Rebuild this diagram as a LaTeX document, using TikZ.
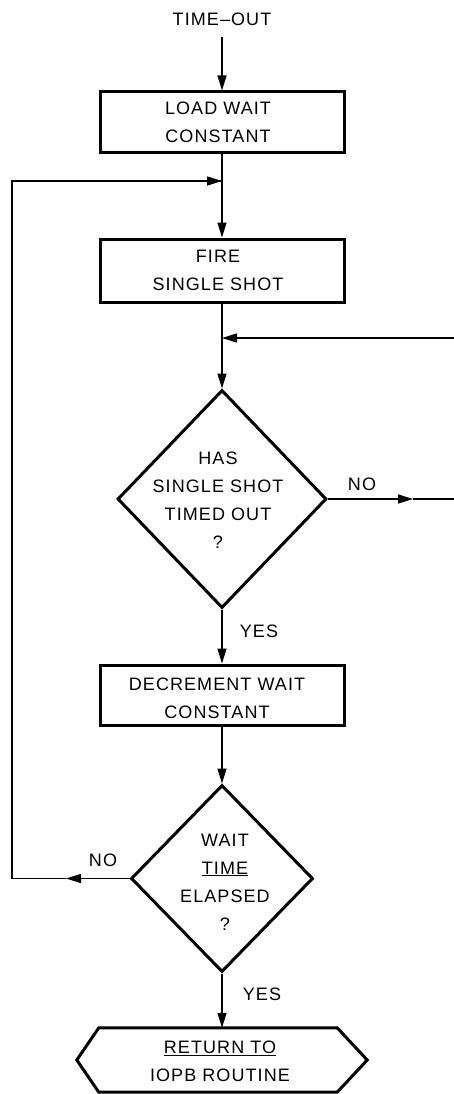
\documentclass[tikz,border=0pt]{standalone}
\usepackage{fontspec}
\setmainfont{Liberation Sans}[LetterSpace=6]
\usetikzlibrary{arrows.meta,shapes.geometric}
\begin{document}
\begin{tikzpicture}[x=1pt,y=-1pt,
  every node/.style={font=\fontsize{18}{28}\selectfont, inner sep=0pt},
  conn/.style={line width=1.5pt},
  arr/.style={conn, -{Triangle[length=15pt,width=9pt]}},
  procbox/.style={draw, line width=3pt, rectangle, minimum width=244pt, align=center},
  decision/.style={draw, line width=3pt, diamond, inner sep=0pt, aspect=1},
  lbl/.style={align=center}]
\useasboundingbox (0,0) rectangle (454,1094);

% nodes
\node[lbl] (start) at (222,19) {TIME--OUT};
\node[procbox, minimum height=61pt] (load) at (222,122.5) {};
\node[lbl] (loadt) at (218,122.5) {LOAD WAIT\\CONSTANT};
\node[procbox, minimum height=63pt] (fire) at (222,270.5) {};
\node[lbl] (firet) at (218,270.5) {FIRE\\SINGLE SHOT};
\node[decision, minimum width=209pt, minimum height=218pt] (d1) at (222,499) {};
\node[lbl] (d1t) at (218,500) {HAS\\SINGLE SHOT\\TIMED OUT\\?};
\node[procbox, minimum height=60pt] (dec) at (222,695) {};
\node[lbl] (dect) at (217,698) {DECREMENT WAIT\\CONSTANT};
\node[decision, minimum width=182pt, minimum height=187pt] (d2) at (222,878.5) {};
\node[lbl] (d2t) at (225,882) {WAIT\\\underline{TIME}\\ELAPSED\\?};
\node[minimum width=290pt, minimum height=64pt] (ret) at (222,1060) {};
\node[lbl] (rett) at (220,1061) {\underline{RETURN TO}\\IOPB ROUTINE};
\draw[line width=3pt, line join=miter]
  (ret.west) -- ([xshift=22pt]ret.north west) -- ([xshift=-30pt]ret.north east)
  -- (ret.east) -- ([xshift=-30pt]ret.south east) -- ([xshift=22pt]ret.south west) -- cycle;

% labels
\node (no1) at (362,484) {NO};
\node (yes1) at (259,631) {YES};
\node (no2) at (103,860) {NO};
\node (yes2) at (262,994) {YES};

% coordinates
\coordinate (j1) at (222,181);
\coordinate (j2) at (222,338);
\coordinate (tipR) at (413,499);
\coordinate (edgeR1) at (454,499);
\coordinate (edgeR2) at (454,338);
\coordinate (tipL) at (66,878.5);
\coordinate (cBL) at (12,878.5);
\coordinate (cTL) at (12,181);

% connectors
\draw[arr] ([yshift=-11pt]start.south) -- (load.north);
\draw[arr] (load.south) -- (fire.north);
\draw[arr] (fire.south) -- (d1.north);
\draw[arr] (edgeR2) -- (j2);
\draw[arr] (d1.east) -- (tipR);
\draw[conn] (tipR) -- (edgeR1);
\draw[arr] (d1.south) -- (dec.north);
\draw[arr] (dec.south) -- (d2.north);
\draw[arr] (d2.west) -- (tipL);
\draw[conn] (tipL) -- (cBL) -- (cTL) -- ([xshift=-1pt]j1);
\draw[arr] (cTL) -- (j1);
\draw[arr] (d2.south) -- (ret.north);
\end{tikzpicture}
\end{document}
